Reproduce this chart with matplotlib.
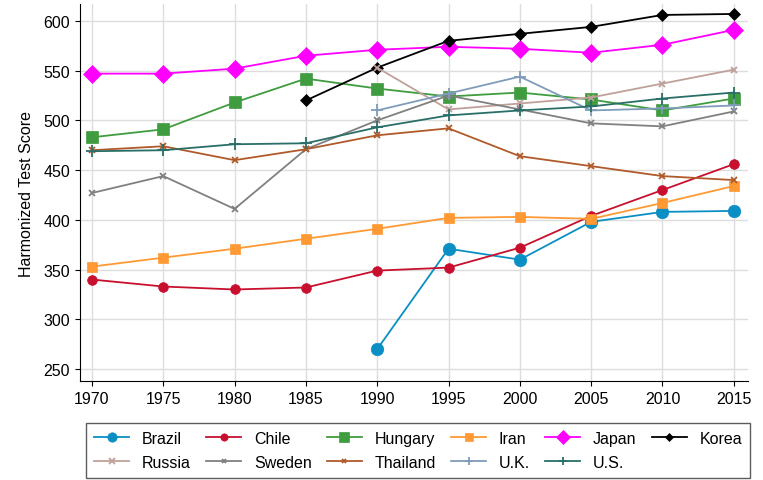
import matplotlib
matplotlib.use("Agg")
import matplotlib.pyplot as plt

plt.rcParams['font.family'] = ['Liberation Sans', 'DejaVu Sans']

years = [1970, 1975, 1980, 1985, 1990, 1995, 2000, 2005, 2010, 2015]
N = None

brazil   = [N, N, N, N, 270, 371, 360, 398, 408, 409]
chile    = [340, 333, 330, 332, 349, 352, 372, 404, 430, 456]
hungary  = [483, 491, 518, 542, 532, 524, 528, 521, 510, 522]
iran     = [353, 362, 371, 381, 391, 402, 403, 401, 417, 434]
japan    = [547, 547, 552, 565, 571, 574, 572, 568, 576, 591]
korea    = [N, N, N, 520, 553, 580, 587, 594, 606, 607]
russia   = [N, N, N, N, 553, 511, 517, 523, 537, 551]
sweden   = [427, 444, 411, 471, 500, 525, 511, 497, 494, 509]
thailand = [470, 474, 460, 471, 485, 492, 464, 454, 444, 440]
uk       = [N, N, N, N, 510, 527, 544, 510, 512, 515]
us       = [469, 470, 476, 477, 493, 505, 510, 514, 522, 528]

series = [
    ('Brazil', brazil, '#0a8fc4', 'o', 9),
    ('Chile', chile, '#c8102e', 'o', 7),
    ('Hungary', hungary, '#3f9c3f', 's', 9),
    ('Iran', iran, '#ff9933', 's', 7.5),
    ('Japan', japan, '#ff00ff', 'D', 9),
    ('Korea', korea, '#000000', 'D', 6),
    ('Russia', russia, '#c0a09a', 'x', 5),
    ('Sweden', sweden, '#808080', 'x', 4),
    ('Thailand', thailand, '#b05a2a', 'x', 4),
    ('U.K.', uk, '#7f9cba', '+', 8),
    ('U.S.', us, '#2a6f67', '+', 8),
]

fig = plt.figure(figsize=(7.63, 4.81), dpi=100)
ax = fig.add_axes([0.1048, 0.2058, 0.8752, 0.7838])

handles = []
for name, vals, col, mk, ms in series:
    xs = [y for y, v in zip(years, vals) if v is not None]
    vs = [v for v in vals if v is not None]
    h, = ax.plot(xs, vs, color=col, marker=mk, markersize=ms, linewidth=1.3,
                 markeredgewidth=1.3 if mk in ('x', '+') else 0.5, label=name)
    handles.append(h)

ax.set_xlim(1969.16, 2015.98)
ax.set_ylim(238, 617)
ax.set_xticks(years)
ax.set_yticks(range(250, 601, 50))
ax.grid(True, color='#dddddd', linewidth=1)
ax.set_axisbelow(True)
ax.tick_params(labelsize=11.5)
ax.set_ylabel('Harmonized Test Score', fontsize=11.5, labelpad=7)
for s in ['top', 'right']:
    ax.spines[s].set_visible(False)

# legend filled row by row: 6 on top, 5 below
order = [0, 6, 1, 7, 2, 8, 3, 9, 4, 10, 5]
hs = [handles[i] for i in order]
leg = fig.legend(hs, [h.get_label() for h in hs], loc='lower left',
                 bbox_to_anchor=(0.113, 0.004, 0.87, 0.12), borderaxespad=0,
                 mode='expand', ncol=6, fontsize=11.5, frameon=True,
                 fancybox=False, edgecolor='#333333', handlelength=2.2,
                 borderpad=0.5, labelspacing=0.6, columnspacing=0.8,
                 markerscale=0.75)
leg.get_frame().set_linewidth(1)

fig.savefig('out.png', dpi=100)
